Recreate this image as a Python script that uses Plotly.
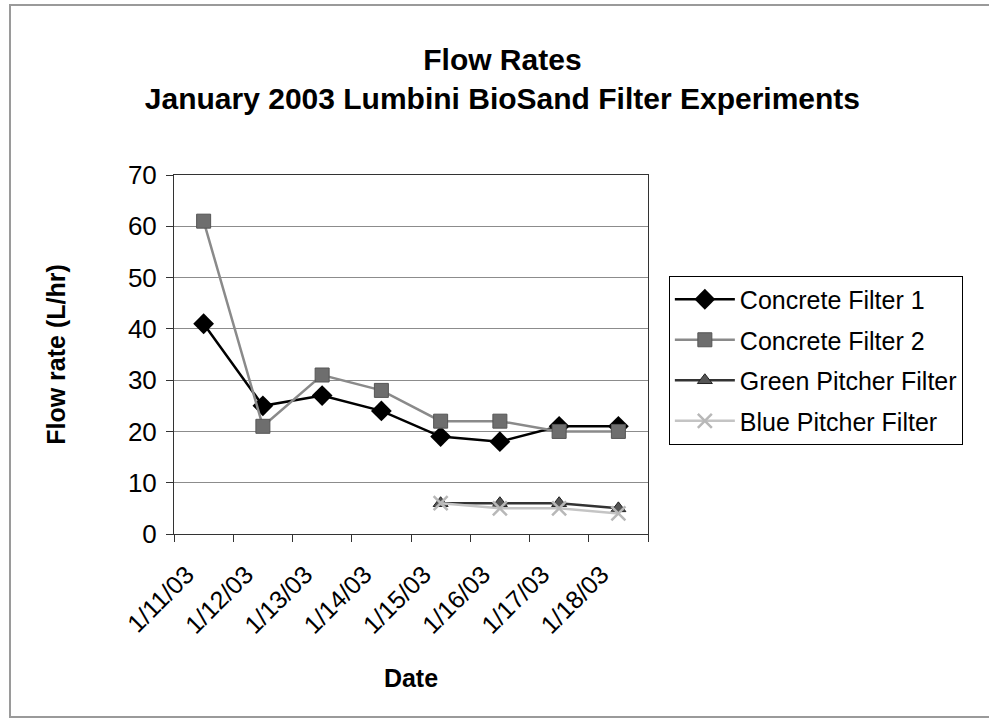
import plotly.graph_objects as go

dates = ["1/11/03", "1/12/03", "1/13/03", "1/14/03", "1/15/03", "1/16/03", "1/17/03", "1/18/03"]
concrete1 = [41, 25, 27, 24, 19, 18, 21, 21]
concrete2 = [61, 21, 31, 28, 22, 22, 20, 20]
green_pitcher = [None, None, None, None, 6, 6, 6, 5]
blue_pitcher = [None, None, None, None, 6, 5, 5, 4]
y_ticks = [0, 10, 20, 30, 40, 50, 60, 70]

FONT = "Liberation Sans, Arial, sans-serif"

fig = go.Figure()
fig.add_trace(go.Scatter(
    x=dates, y=concrete1, name="Concrete Filter 1", mode="lines+markers",
    legendgroup="a",
    line=dict(color="#000000", width=2.5),
    marker=dict(symbol="diamond", size=16, color="#000000")))
fig.add_trace(go.Scatter(
    x=dates, y=concrete2, name="Concrete Filter 2", mode="lines+markers",
    legendgroup="b",
    line=dict(color="#8a8a8a", width=2.5),
    marker=dict(symbol="square", size=14, color="#6e6e6e", line=dict(color="#555555", width=1))))
fig.add_trace(go.Scatter(
    x=dates, y=green_pitcher, name="Green Pitcher Filter", mode="lines+markers",
    legendgroup="c",
    line=dict(color="#333333", width=2.5),
    marker=dict(symbol="triangle-up", size=13, color="#555555", line=dict(color="#222222", width=1))))
fig.add_trace(go.Scatter(
    x=dates, y=blue_pitcher, name="Blue Pitcher Filter", mode="lines+markers",
    legendgroup="d",
    line=dict(color="#c4c4c4", width=2.5),
    marker=dict(symbol="x-thin", size=14, color="#bdbdbd", line=dict(color="#b8b8b8", width=2.5))))

fig.update_layout(
    width=989, height=719,
    paper_bgcolor="white", plot_bgcolor="white",
    font=dict(family=FONT, color="#000000"),
    margin=dict(l=174, r=341, t=175, b=185),
    title=dict(
        text="Flow Rates<br>January 2003 Lumbini BioSand Filter Experiments",
        x=0.508, xanchor="center", y=0.903, yanchor="top",
        font=dict(family=FONT, size=30, color="#000000", weight="bold")),
    legend=dict(
        x=1.044, xanchor="left", y=0.72, yanchor="top",
        bordercolor="#000000", borderwidth=1,
        font=dict(family=FONT, size=25, color="#000000"),
        itemwidth=60, tracegroupgap=5, traceorder="grouped",
        bgcolor="white"),
    showlegend=True,
)

fig.update_xaxes(
    type="category", range=[-0.5, 7.5],
    tickson="boundaries", ticks="outside", ticklen=7, tickcolor="#333333",
    showgrid=False, showline=True, linecolor="#333333", linewidth=1, mirror=True,
    tickangle=-45, tickfont=dict(family=FONT, size=25, color="#000000"),
    ticklabelshift=-17, ticklabelstandoff=15,
    title=dict(text="<b>Date</b>", font=dict(family=FONT, size=25, color="#000000"), standoff=31),
)
fig.update_yaxes(
    range=[0, 70], tickvals=y_ticks, ticks="outside", ticklen=7, tickcolor="#333333",
    showgrid=True, gridcolor="#8c8c8c", gridwidth=1,
    showline=True, linecolor="#333333", linewidth=1, mirror=True, zeroline=False,
    tickfont=dict(family=FONT, size=26, color="#000000"), ticklabelstandoff=4,
    title=dict(text="<b>Flow rate (L/hr)</b>", font=dict(family=FONT, size=25, color="#000000"), standoff=55),
)

fig.add_shape(type="rect", xref="paper", yref="paper",
              x0=(10 - 174) / 474, x1=(1100 - 174) / 474,
              y0=(534 - 717) / 359, y1=(534 - 5) / 359,
              line=dict(color="#9a9a9a", width=2), fillcolor="rgba(0,0,0,0)", layer="below")

fig.write_html("out.html", config={"displayModeBar": False},
               post_script="document.body.style.margin='0';document.body.style.overflow='hidden';")
